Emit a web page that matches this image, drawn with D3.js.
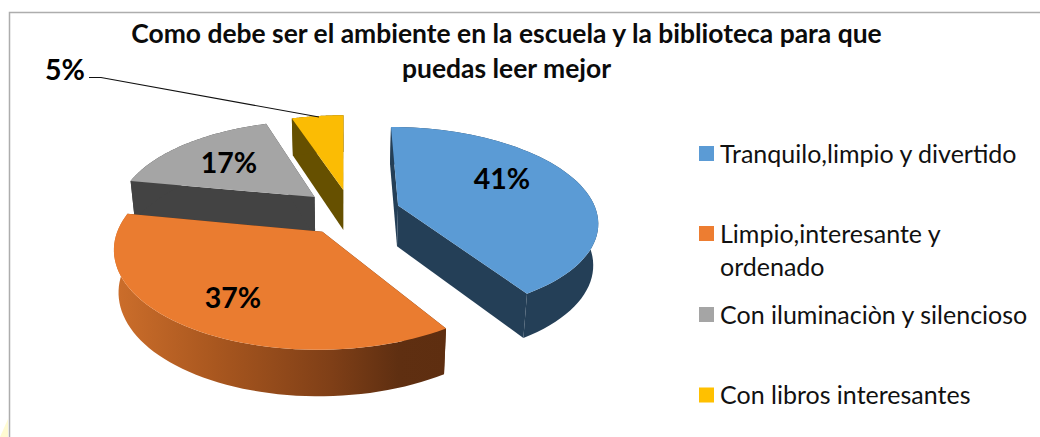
<!DOCTYPE html>
<html><head><meta charset="utf-8">
<script src="https://cdn.jsdelivr.net/npm/d3@7"></script>
<style>html,body{margin:0;padding:0;background:#fff}svg{display:block}text{font-family:Lato,"Open Sans",sans-serif}</style>
</head><body><svg id="c" width="1040" height="437"></svg>
<script>
const categories = ["Tranquilo,limpio y divertido","Limpio,interesante y\nordenado","Con iluminaciòn y silencioso","Con libros interesantes"];
const values = [41,37,17,5];
const titleLines = ["Como debe ser el ambiente en la escuela y la biblioteca para que","puedas leer mejor"];
const colors = ["#5B9BD5","#EA7C30","#A5A5A5","#FBBC04"];
const legendColors = ["#5B9BD5","#ED7D31","#A5A5A5","#FFC000"];
const wallColors = ["#243F57",null,"#434343","#665000"];
const labelPos = [[502,179],[233,298],[229,163],[65,70]];
const legendY = [153.5,233.5,314.5,395];

const svg = d3.select("#c");
// faint page tint in the corner, then frame (open on the right)
svg.append("path").attr("d","M0,437L8,419V437Z").attr("fill","#FFFBD2");
svg.append("path").attr("d","M9.5,437V12.5H1040").attr("fill","none").attr("stroke","#ADADAD").attr("stroke-width",1.5);

// perspective projection of the pie plane
const vx=345,cx=351,y0=212,R=198.5,S=92.7,k=0.156,e=0.25,h=41,taper=0.98;
function proj(X,Z,bottom){
  const D=1+k*Z;
  let x=vx+(cx-vx+R*X)/D, y=y0-S*Z/D;
  if(bottom){x=vx+(x-vx)*taper; y+=h/Math.pow(D,0.6);}
  return [x,y];
}
const pie=d3.pie().sort(null)(values);
const slices=pie.map((p,i)=>{
  const mid=(p.startAngle+p.endAngle)/2;
  const ox=e*Math.sin(mid), oz=e*Math.cos(mid);
  const at=(a,r,b)=>proj(ox+r*Math.sin(a),oz+r*Math.cos(a),b);
  const arc=b=>d3.range(0,61).map(j=>at(p.startAngle+(p.endAngle-p.startAngle)*j/60,1,b));
  return {i,p,at,arc,mid};
});
const line=d3.line();
const defs=svg.append("defs");
const g=defs.append("linearGradient").attr("id","og").attr("gradientUnits","userSpaceOnUse")
  .attr("x1",115).attr("x2",448).attr("y1",0).attr("y2",0);
[[0,"#CC6E2B"],[0.3,"#A9571F"],[0.65,"#7F3F17"],[0.85,"#5F2F11"],[1,"#5E2E10"]].forEach(s=>g.append("stop").attr("offset",s[0]).attr("stop-color",s[1]));

[2,3,0,1].forEach(i=>{
  const s=slices[i], top=s.arc(false), bot=s.arc(true);
  const wall=wallColors[i]||"url(#og)";
  const fp=i===1?"#5E2E10":wall;
  const a0=s.at(0,0,false),a1=s.at(0,0,true);
  // radial faces
  svg.append("path").attr("d",line([top[0],a0,a1,bot[0]])+"Z").attr("fill",fp);
  svg.append("path").attr("d",line([top[60],a0,a1,bot[60]])+"Z").attr("fill",fp);
  // outer wall
  svg.append("path").attr("d",line(top.concat(bot.slice().reverse()))+"Z").attr("fill",wall);
  // top
  svg.append("path").attr("d",line([a0].concat(top))+"Z").attr("fill",colors[i]);
});

// leader
const tip=[319,117];
svg.append("path").attr("d",line([[89,77.5],[101,77.5],tip])).attr("fill","none").attr("stroke","#111").attr("stroke-width",1.1);

// labels
labelPos.forEach((q,i)=>svg.append("text").attr("x",q[0]).attr("y",q[1]).attr("dy","0.36em").attr("text-anchor","middle")
  .attr("font-size",28.5).attr("font-weight",700).attr("fill","#000").text(values[i]+"%"));

// title
titleLines.forEach((t,i)=>svg.append("text").attr("x",506.5).attr("y",[43,78][i]).attr("text-anchor","middle")
  .attr("font-size",26.45).attr("font-weight",700).attr("fill","#0b0b0b").text(t));

// legend
categories.forEach((c,i)=>{
  svg.append("rect").attr("x",699).attr("y",legendY[i]-7.5).attr("width",15).attr("height",15).attr("fill",legendColors[i]);
  c.split("\n").forEach((l,j)=>svg.append("text").attr("x",720).attr("y",legendY[i]+9+j*33).attr("font-size",25).attr("fill","#111").text(l));
});
</script></body></html>
